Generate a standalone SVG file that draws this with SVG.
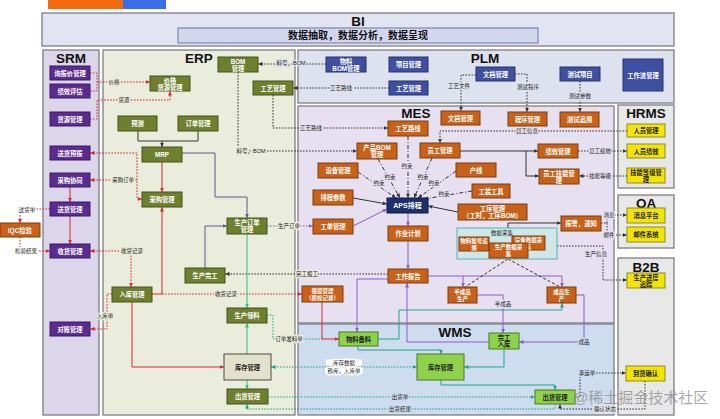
<svg xmlns="http://www.w3.org/2000/svg" width="720" height="419" viewBox="0 0 720 419">
<defs>
<style>
text{font-family:"Liberation Sans","Noto Sans CJK SC",sans-serif}
.pn{stroke:#7d7d86;stroke-width:1.3}
.ttl{font-size:13.5px;font-weight:bold;fill:#111;text-anchor:middle}
.n rect{stroke-width:1}
.n text{font-size:6.3px;font-weight:bold;text-anchor:middle;dominant-baseline:central}
.n.sm text{font-size:5.5px}
.sp rect{fill:#5b2b90;stroke:#3a1a60}
.sp text,.er text,.pl text,.ms text,.ap text{fill:#fff}
.er rect{fill:#6f7f30;stroke:#47531c}
.pl rect{fill:#3f4fa2;stroke:#27326e}
.ms rect{fill:#c8621a;stroke:#7f3c0c}
.ap rect{fill:#1d2f6c;stroke:#0e1a44}
.hr rect{fill:#f3e500;stroke:#8c8a2a}
.hr text,.wm text,.kc text{fill:#222}
.wm rect{fill:#8dd24a;stroke:#487a1e}
.kc rect{fill:#e2e2cc;stroke:#4b4b3a}
.c{fill:none;stroke-width:1}
.k{stroke:#333}.r{stroke:#e0252b}.p{stroke:#8a5cc8}.tl{stroke:#1aa88a}.s{stroke:#5a5a8c}.g{stroke:#2ec27a}
.dt{stroke-dasharray:1.6 1.4}
.dd{stroke-dasharray:4 2 1 2}
.lb{font-size:5.5px;fill:#222;text-anchor:middle;dominant-baseline:central;paint-order:stroke;stroke-width:2.6px;stroke-linejoin:round}
.hE{stroke:#eaeddc}.hM{stroke:#e6e0f0}.hW{stroke:#cedcf0}.hP{stroke:#dee2ee}.hS{stroke:#dcd6ea}.hw{stroke:#fff}.hG{stroke:#e8e8e8}
</style>
<marker id="mk" viewBox="0 0 6 6" refX="6" refY="3" markerWidth="4.5" markerHeight="4.5" markerUnits="userSpaceOnUse" orient="auto-start-reverse"><path d="M0,0.3 L6,3 L0,5.7z" fill="#333"/></marker>
<marker id="mr" viewBox="0 0 6 6" refX="6" refY="3" markerWidth="4.5" markerHeight="4.5" markerUnits="userSpaceOnUse" orient="auto-start-reverse"><path d="M0,0.3 L6,3 L0,5.7z" fill="#e0252b"/></marker>
<marker id="mp" viewBox="0 0 6 6" refX="6" refY="3" markerWidth="4.5" markerHeight="4.5" markerUnits="userSpaceOnUse" orient="auto-start-reverse"><path d="M0,0.3 L6,3 L0,5.7z" fill="#8a5cc8"/></marker>
<marker id="mt" viewBox="0 0 6 6" refX="6" refY="3" markerWidth="4.5" markerHeight="4.5" markerUnits="userSpaceOnUse" orient="auto-start-reverse"><path d="M0,0.3 L6,3 L0,5.7z" fill="#1aa88a"/></marker>
<marker id="ms" viewBox="0 0 6 6" refX="6" refY="3" markerWidth="4.5" markerHeight="4.5" markerUnits="userSpaceOnUse" orient="auto-start-reverse"><path d="M0,0.3 L6,3 L0,5.7z" fill="#5a5a8c"/></marker>
<marker id="mg" viewBox="0 0 6 6" refX="6" refY="3" markerWidth="4.5" markerHeight="4.5" markerUnits="userSpaceOnUse" orient="auto-start-reverse"><path d="M0,0.3 L6,3 L0,5.7z" fill="#2ec27a"/></marker>
</defs>
<rect width="720" height="419" fill="#fff"/>
<rect x="48" y="0" width="75" height="9" fill="#f26a0c"/>
<rect x="123" y="0" width="43" height="9" fill="#3a6ee8"/>

<g id="panels">
<rect class="pn" x="42" y="13" width="632" height="33" fill="#e3e4f2"/>
<rect x="178" y="28" width="360" height="15" fill="#d3d7ee" stroke="#6e72a0" stroke-width="1"/>
<text class="ttl" x="358" y="26">BI</text>
<text x="358" y="39" font-size="10" font-weight="bold" text-anchor="middle" fill="#111">数据抽取，数据分析，数据呈现</text>
<rect class="pn" x="43" y="50" width="56" height="365" fill="#dcd6ea"/>
<rect class="pn" x="103" y="50" width="192" height="365" fill="#eaeddc"/>
<rect class="pn" x="298" y="50" width="376" height="53" fill="#dee2ee"/>
<rect class="pn" x="298" y="106" width="316" height="217" fill="#e6e0f0"/>
<rect class="pn" x="298" y="324" width="316" height="91" fill="#cedcf0"/>
<rect class="pn" x="618" y="105" width="56" height="83" fill="#e8e8e8"/>
<rect class="pn" x="618" y="195" width="56" height="53" fill="#e8e8e8"/>
<rect class="pn" x="618" y="258" width="56" height="157" fill="#e8e8e8"/>
<text class="ttl" x="71" y="63">SRM</text>
<text class="ttl" x="199" y="63">ERP</text>
<text class="ttl" x="485" y="63">PLM</text>
<text class="ttl" x="416" y="118">MES</text>
<text class="ttl" x="455" y="337" font-size="14">WMS</text>
<text class="ttl" x="646" y="118">HRMS</text>
<text class="ttl" x="646" y="208">OA</text>
<text class="ttl" x="646" y="272">B2B</text>
</g>

<g id="connectors">
<path class="c r dt" d="M90,73 H97 V91 H90"/>
<path class="c r dt" d="M97,82 H150" marker-end="url(#mr)"/>
<path class="c r dt" d="M90,119 H97 V100 H170 V91" marker-end="url(#mr)"/>
<path class="c r dt" d="M142,199 H137 V153 H90" marker-start="url(#mr)" marker-end="url(#mr)"/>
<path class="c r dt" d="M137,180 H90" marker-end="url(#mr)"/>
<path class="c r" d="M70,187 V202" marker-end="url(#mr)"/>
<path class="c r" d="M70,216 V244" marker-end="url(#mr)"/>
<path class="c r dt" d="M50,209 H20 V223" marker-end="url(#mr)"/>
<path class="c r dt" d="M20,237 V251 H50" marker-end="url(#mr)"/>
<path class="c r dt" d="M131,287 V251 H90" marker-start="url(#mr)" marker-end="url(#mr)"/>
<path class="c r dt" d="M112,294 H107 V329 H90" marker-end="url(#mr)"/>
<path class="c r" d="M152,294 H162 V207" marker-end="url(#mr)"/>
<path class="c r dt" d="M162,294 H302" marker-end="url(#mr)"/>
<path class="c r" d="M132,302 V367 H224" marker-end="url(#mr)"/>
<path class="c r" d="M162,162 V192" marker-end="url(#mr)"/>
<path class="c k" d="M138,131 V141 H198 V131"/>
<path class="c k" d="M162,141 V147" marker-end="url(#mk)"/>
<path class="c s" d="M182,153 H215 V197 H247 V218" marker-end="url(#ms)"/>
<path class="c s" d="M205,268 V226 H227" marker-end="url(#ms)"/>
<path class="c p dt" d="M267,226 H313" marker-end="url(#mp)"/>
<path class="c k dt" d="M388,274 H225" marker-end="url(#mk)"/>
<path class="c g" d="M247,234 V308" marker-end="url(#mg)"/>
<path class="c g" d="M247,354 V323" marker-end="url(#mg)"/>
<path class="c g" d="M247,380 V389" marker-end="url(#mg)"/>
<path class="c tl dt" d="M267,315 H273 V339 H322"/>
<path class="c r" d="M322,302 V339 H339" marker-end="url(#mr)"/>
<path class="c tl dt" d="M271,367 H417" marker-start="url(#mt)" marker-end="url(#mt)"/>
<path class="c tl dt" d="M268,397 H535" marker-end="url(#mt)"/>
<path class="c tl dt" d="M555,404 V409 H247 V404" marker-end="url(#mt)"/>
<path class="c k dt" d="M575,397 H580 V373 H626" marker-end="url(#mk)"/>
<path class="c k dt" d="M645,381 V409 H560 V404" marker-end="url(#mk)"/>
<path class="c tl" d="M441,380 V385 H555 V390" marker-end="url(#mt)"/>
<path class="c tl" d="M358,346 V350 H441 V354" marker-end="url(#mt)"/>
<path class="c tl" d="M504,349 V367 H464" marker-end="url(#mt)"/>
<path class="c tl" d="M378,339 H399 V310 H562 V303" marker-end="url(#mt)"/>
<path class="c p" d="M489,342 H407 V283" marker-end="url(#mp)"/>
<path class="c p" d="M477,295 H503 V333" marker-end="url(#mp)"/>
<path class="c p" d="M576,295 H584 V342 H519" marker-end="url(#mp)"/>
<path class="c p" d="M428,276 H562 V287" marker-end="url(#mp)"/>
<path class="c p" d="M463,276 V287" marker-end="url(#mp)"/>
<path class="c p" d="M388,279 H357 V332" marker-end="url(#mp)"/>
<path class="c p" d="M408,241 V269" marker-end="url(#mp)"/>
<path class="c p" d="M408,213 V226" marker-end="url(#mp)"/>
<path class="c p" d="M353,226 L387,209" marker-end="url(#mp)"/>
<path class="c k" d="M353,198 L387,204" marker-end="url(#mk)"/>
<path class="c k" d="M458,212 L428,206" marker-end="url(#mk)"/>
<path class="c k dd" d="M408,136 V198" marker-end="url(#mk)"/>
<path class="c k dd" d="M378,159 L400,198" marker-end="url(#mk)"/>
<path class="c k dd" d="M358,172 L396,198" marker-end="url(#mk)"/>
<path class="c k dd" d="M432,158 L414,198" marker-end="url(#mk)"/>
<path class="c k dd" d="M456,171 L418,198" marker-end="url(#mk)"/>
<path class="c k dd" d="M472,191 L424,199" marker-end="url(#mk)"/>
<path class="c k dt" d="M627,131 H440 V143" marker-end="url(#mk)"/>
<path class="c k" d="M460,151 H538" marker-end="url(#mk)"/>
<path class="c k" d="M526,151 V176 H539" marker-end="url(#mk)"/>
<path class="c k dt" d="M578,151 H627" marker-end="url(#mk)"/>
<path class="c k dt" d="M627,176 H579" marker-end="url(#mk)"/>
<path class="c k dt" d="M515,74 H527 V112" marker-end="url(#mk)"/>
<path class="c k dt" d="M580,81 V112" marker-end="url(#mk)"/>
<path class="c k dt" d="M476,75 H461 V111" marker-end="url(#mk)"/>
<path class="c k dt" d="M326,64 H258" marker-end="url(#mk)"/>
<path class="c k dt" d="M389,88 H293" marker-end="url(#mk)"/>
<path class="c k dt" d="M273,95 V128 H388" marker-end="url(#mk)"/>
<path class="c k dt" d="M238,72 V151 H357" marker-end="url(#mk)"/>
<path class="c k" d="M508,228 V223 H561" marker-end="url(#mk)"/>
<path class="c k dt" d="M601,223 H607 V215 H627" marker-end="url(#mk)"/>
<path class="c k dt" d="M607,223 V235 H627" marker-end="url(#mk)"/>
<path class="c k dt" d="M557,246 H603 V280 H627" marker-end="url(#mk)"/>
<path class="c k" stroke-dasharray="3 2" d="M508,259 L465,287 M508,259 L560,287"/>
<text class="lb hE" x="114" y="82">价格</text>
<text class="lb hE" x="124" y="100">货源</text>
<text class="lb hE" x="123" y="180">采购订单</text>
<text class="lb hw" x="27" y="210">送货单</text>
<text class="lb hw" x="26" y="251">检验结果</text>
<text class="lb hE" x="132" y="251">收货记录</text>
<text class="lb hE" x="105" y="316">入库单</text>
<text class="lb hE" x="226" y="294">收货记录</text>
<text class="lb hE" x="289" y="226">生产订单</text>
<text class="lb hE" x="307" y="274">完工报工</text>
<text class="lb hE" x="289" y="339">订单发料单</text>
<rect x="326" y="359.5" width="36" height="6" fill="#fff"/>
<rect x="325" y="367.5" width="38" height="6" fill="#fff"/>
<text class="lb hw" x="344" y="362.5">库存数据</text>
<text class="lb hw" x="344" y="370.5">移库，入库单</text>
<text class="lb hW" x="400" y="397">出货单</text>
<text class="lb hW" x="400" y="409">出货结果</text>
<text class="lb hW" x="587" y="373">承运单</text>
<text class="lb hG" x="605" y="409">确认状态</text>
<text class="lb hM" x="503" y="304">半成品</text>
<text class="lb hW" x="584" y="342">成品</text>
<text class="lb hM" x="407" y="166">约束</text>
<text class="lb hM" x="390" y="177">约束</text>
<text class="lb hM" x="379" y="183">约束</text>
<text class="lb hM" x="423" y="177">约束</text>
<text class="lb hM" x="434" y="183">约束</text>
<text class="lb hM" x="444" y="194">约束</text>
<text class="lb hM" x="527" y="131">员工信息</text>
<text class="lb hM" x="600" y="151">员工绩效</text>
<text class="lb hM" x="600" y="176">技能等级</text>
<text class="lb hP" x="528" y="87">测试程序</text>
<text class="lb hP" x="580" y="96">测试参数</text>
<text class="lb hP" x="459" y="86">工艺文件</text>
<text class="lb hP" x="291" y="63">料号，BOM</text>
<text class="lb hP" x="341" y="88">工艺路线</text>
<text class="lb hM" x="311" y="128">工艺路线</text>
<text class="lb hE" x="251" y="151">料号，BOM</text>
<text class="lb hM" x="609" y="215">消息</text>
<text class="lb hM" x="609" y="235">邮件</text>
<text class="lb hM" x="596" y="254">生产信息</text>
</g>

<g id="srm-xbj" class="n sp"><rect x="50" y="66" width="40" height="14"/><text x="70" y="73">询报价管理</text></g>
<g id="srm-jxpg" class="n sp"><rect x="50" y="84" width="40" height="14"/><text x="70" y="91">绩效评估</text></g>
<g id="srm-hygl" class="n sp"><rect x="50" y="112" width="40" height="14"/><text x="70" y="119">货源管理</text></g>
<g id="srm-shyb" class="n sp"><rect x="50" y="146" width="40" height="14"/><text x="70" y="153">送货预报</text></g>
<g id="srm-cgxt" class="n sp"><rect x="50" y="173" width="40" height="14"/><text x="70" y="180">采购协同</text></g>
<g id="srm-shgl" class="n sp"><rect x="50" y="202" width="40" height="14"/><text x="70" y="209">送货管理</text></g>
<g id="srm-sgl" class="n sp"><rect x="50" y="244" width="40" height="14"/><text x="70" y="251">收货管理</text></g>
<g id="srm-dzgl" class="n sp"><rect x="50" y="322" width="40" height="14"/><text x="70" y="329">对账管理</text></g>
<g id="iqc" class="n ms"><rect x="0" y="223" width="40" height="14"/><text x="20" y="230">IQC检验</text></g>

<g id="erp-jg" class="n er"><rect x="150" y="76" width="40" height="15"/><text x="170" y="80">价格</text><text x="170" y="87">货源管理</text></g>
<g id="erp-bom" class="n er"><rect x="218" y="57" width="40" height="15"/><text x="238" y="61">BOM</text><text x="238" y="68">管理</text></g>
<g id="erp-gygl" class="n er"><rect x="253" y="81" width="40" height="14"/><text x="273" y="88">工艺管理</text></g>
<g id="erp-yc" class="n er"><rect x="118" y="116" width="39" height="15"/><text x="137.5" y="123.5">预测</text></g>
<g id="erp-ddgl" class="n er"><rect x="178" y="116" width="40" height="15"/><text x="198" y="123.5">订单管理</text></g>
<g id="erp-mrp" class="n er"><rect x="142" y="147" width="40" height="15"/><text x="162" y="154.5">MRP</text></g>
<g id="erp-cggl" class="n er"><rect x="142" y="192" width="40" height="15"/><text x="162" y="199.5">采购管理</text></g>
<g id="erp-scdd" class="n er"><rect x="227" y="218" width="40" height="16"/><text x="247" y="222.5">生产订单</text><text x="247" y="229.5">管理</text></g>
<g id="erp-scwg" class="n er"><rect x="185" y="268" width="40" height="15"/><text x="205" y="275.5">生产完工</text></g>
<g id="erp-rkgl" class="n er"><rect x="112" y="287" width="40" height="15"/><text x="132" y="294.5">入库管理</text></g>
<g id="erp-scll" class="n er"><rect x="227" y="308" width="40" height="15"/><text x="247" y="315.5">生产领料</text></g>
<g id="erp-kcgl" class="n kc"><rect x="224" y="354" width="47" height="26"/><text x="247.5" y="367">库存管理</text></g>
<g id="erp-chgl" class="n er"><rect x="227" y="389" width="41" height="15"/><text x="247.5" y="396.5">出货管理</text></g>

<g id="plm-wlbom" class="n pl"><rect x="326" y="57" width="40" height="15"/><text x="346" y="61">物料</text><text x="346" y="68">BOM管理</text></g>
<g id="plm-xmgl" class="n pl"><rect x="389" y="57" width="39" height="15"/><text x="408.5" y="64.5">项目管理</text></g>
<g id="plm-gygl" class="n pl"><rect x="389" y="81" width="39" height="14"/><text x="408.5" y="88">工艺管理</text></g>
<g id="plm-wdgl" class="n pl"><rect x="476" y="67" width="39" height="14"/><text x="495.5" y="74">文档管理</text></g>
<g id="plm-csxm" class="n pl"><rect x="560" y="67" width="40" height="14"/><text x="580" y="74">测试项目</text></g>
<g id="plm-gzl" class="n pl"><rect x="623" y="59" width="40" height="32"/><text x="643" y="75">工作流管理</text></g>

<g id="mes-wdgl" class="n ms"><rect x="441" y="111" width="39" height="14"/><text x="460.5" y="118">文档管理</text></g>
<g id="mes-cxgl" class="n ms"><rect x="508" y="112" width="39" height="14"/><text x="527.5" y="119">程序管理</text></g>
<g id="mes-cszs" class="n ms"><rect x="560" y="112" width="39" height="15"/><text x="579.5" y="119.5">测试追溯</text></g>
<g id="mes-gylx" class="n ms"><rect x="388" y="121" width="40" height="15"/><text x="408" y="128.5">工艺路线</text></g>
<g id="mes-cpbom" class="n ms"><rect x="357" y="143" width="40" height="16"/><text x="377" y="147.5">产品BOM</text><text x="377" y="154.5">管理</text></g>
<g id="mes-yggl" class="n ms"><rect x="420" y="143" width="40" height="15"/><text x="440" y="150.5">员工管理</text></g>
<g id="mes-sbgl" class="n ms"><rect x="318" y="163" width="40" height="15"/><text x="338" y="170.5">设备管理</text></g>
<g id="mes-cx" class="n ms"><rect x="456" y="163" width="40" height="14"/><text x="476" y="170">产线</text></g>
<g id="mes-gzgj" class="n ms"><rect x="472" y="184" width="38" height="14"/><text x="491" y="191">工装工具</text></g>
<g id="mes-pcsc" class="n ms"><rect x="313" y="190" width="40" height="15"/><text x="333" y="197.5">排程参数</text></g>
<g id="mes-aps" class="n ap"><rect x="387" y="198" width="41" height="15"/><text x="407.5" y="205.5" style="font-size:7px">APS排程</text></g>
<g id="mes-gxgl" class="n ms"><rect x="458" y="204" width="69" height="16"/><text x="492.5" y="208.5">工序管理</text><text x="492.5" y="215.5">（工时，工序BOM）</text></g>
<g id="mes-gdgl" class="n ms"><rect x="313" y="219" width="40" height="15"/><text x="333" y="226.5">工单管理</text></g>
<g id="mes-zyjh" class="n ms"><rect x="388" y="226" width="40" height="15"/><text x="408" y="233.5">作业计划</text></g>
<g id="mes-jxgl" class="n ms"><rect x="538" y="144" width="40" height="14"/><text x="558" y="151">绩效管理</text></g>
<g id="mes-ygjn" class="n ms"><rect x="539" y="169" width="40" height="15"/><text x="559" y="173">员工技能管</text><text x="559" y="180">理</text></g>
<g id="mes-bjtz" class="n ms"><rect x="561" y="216" width="40" height="15"/><text x="581" y="223.5">报警，通知</text></g>
<g id="mes-sjcj">
<rect x="457" y="228" width="100" height="31" fill="#cde8e6" stroke="#5cb0b0" stroke-width="1"/>
<text x="502" y="232.5" font-size="5.5" fill="#222" text-anchor="middle" dominant-baseline="central">数据采集</text>
<g id="mes-wlph" class="n ms sm"><rect x="459" y="237" width="30" height="14"/><text x="474" y="241">物料批号追</text><text x="474" y="247.5">溯</text></g>
<g id="mes-sbsj" class="n ms sm"><rect x="512" y="236" width="33" height="14"/><text x="528.5" y="240">设备数据采</text><text x="528.5" y="246.5">集</text></g>
<g id="mes-scsj" class="n ms sm"><rect x="489" y="243" width="39" height="15"/><text x="508.5" y="247">生产数据采</text><text x="508.5" y="254">集</text></g>
</g>
<g id="mes-gzbg" class="n ms"><rect x="388" y="269" width="40" height="14"/><text x="408" y="276">工作报告</text></g>
<g id="mes-bcp" class="n ms sm"><rect x="448" y="287" width="29" height="16"/><text x="462.5" y="291.5">半成品</text><text x="462.5" y="298.5">生产</text></g>
<g id="mes-cp" class="n ms sm"><rect x="547" y="287" width="29" height="16"/><text x="561.5" y="291.5">成品生</text><text x="561.5" y="298.5">产</text></g>
<g id="mes-bsgl" class="n ms sm"><rect x="302" y="286" width="41" height="16"/><text x="322.5" y="290.5">报损管理</text><text x="322.5" y="297.5">（质检记录）</text></g>

<g id="hr-rygl" class="n hr"><rect x="627" y="124" width="38" height="13"/><text x="646" y="130.5">人员管理</text></g>
<g id="hr-ryjx" class="n hr"><rect x="627" y="144" width="38" height="14"/><text x="646" y="151">人员绩效</text></g>
<g id="hr-jndj" class="n hr"><rect x="627" y="168" width="38" height="15"/><text x="646" y="172">技能等级管</text><text x="646" y="179">理</text></g>
<g id="oa-xxpt" class="n hr"><rect x="627" y="208" width="38" height="15"/><text x="646" y="215.5">消息平台</text></g>
<g id="oa-yjxt" class="n hr"><rect x="627" y="227" width="38" height="15"/><text x="646" y="234.5">邮件系统</text></g>
<g id="b2b-scjd" class="n hr"><rect x="627" y="273" width="38" height="15"/><text x="646" y="277">生产进度</text><text x="646" y="284">追踪</text></g>
<g id="b2b-dhqr" class="n hr"><rect x="626" y="366" width="39" height="15"/><text x="645.5" y="373.5">到货确认</text></g>

<g id="wms-wlbl" class="n wm"><rect x="339" y="332" width="39" height="14"/><text x="358.5" y="339">物料备料</text></g>
<g id="wms-kcgl" class="n wm"><rect x="417" y="354" width="47" height="26"/><text x="440.5" y="367">库存管理</text></g>
<g id="wms-wgrk" class="n wm"><rect x="489" y="333" width="30" height="16"/><text x="504" y="337.5">完工</text><text x="504" y="344.5">入库</text></g>
<g id="wms-chgl" class="n wm"><rect x="535" y="390" width="40" height="14"/><text x="555" y="397">出货管理</text></g>

<text x="573" y="403" font-size="15" fill="#8a8a8a" fill-opacity="0.75">@稀土掘金技术社区</text>
</svg>
